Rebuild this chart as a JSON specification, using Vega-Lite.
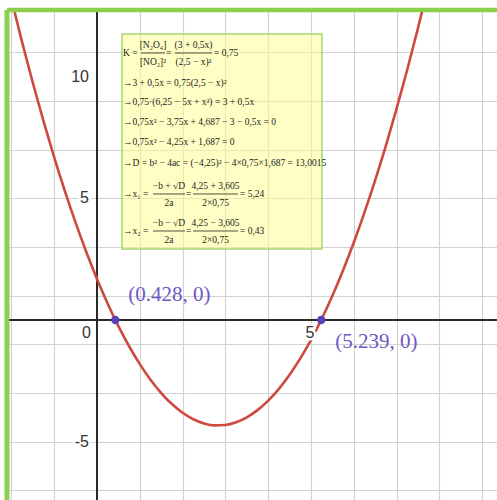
{
  "$schema": "https://vega.github.io/schema/vega-lite/v6.json",
  "width": 490,
  "height": 490,
  "autosize": {"type": "none"},
  "padding": {"left": 7, "top": 10, "right": 0, "bottom": 0},
  "background": "white",
  "config": {
    "view": {"stroke": null},
    "axis": {"grid": true, "labels": false, "ticks": false, "domain": false, "gridColor": "#d2d2d2", "gridWidth": 1.2}
  },
  "datasets": {
    "curve": [
      {"x": -2.25, "y": 15.046}, {"x": -2.0, "y": 13.187}, {"x": -1.75, "y": 11.421}, {"x": -1.5, "y": 9.75},
      {"x": -1.25, "y": 8.171}, {"x": -1.0, "y": 6.687}, {"x": -0.75, "y": 5.296}, {"x": -0.5, "y": 4.0},
      {"x": -0.25, "y": 2.796}, {"x": 0.0, "y": 1.687}, {"x": 0.25, "y": 0.671}, {"x": 0.5, "y": -0.251},
      {"x": 0.75, "y": -1.079}, {"x": 1.0, "y": -1.813}, {"x": 1.25, "y": -2.454}, {"x": 1.5, "y": -3.001},
      {"x": 1.75, "y": -3.454}, {"x": 2.0, "y": -3.813}, {"x": 2.25, "y": -4.079}, {"x": 2.5, "y": -4.251},
      {"x": 2.75, "y": -4.329}, {"x": 3.0, "y": -4.313}, {"x": 3.25, "y": -4.204}, {"x": 3.5, "y": -4.001},
      {"x": 3.75, "y": -3.704}, {"x": 4.0, "y": -3.313}, {"x": 4.25, "y": -2.829}, {"x": 4.5, "y": -2.251},
      {"x": 4.75, "y": -1.579}, {"x": 5.0, "y": -0.813}, {"x": 5.25, "y": 0.046}, {"x": 5.5, "y": 1.0},
      {"x": 5.75, "y": 2.046}, {"x": 6.0, "y": 3.187}, {"x": 6.25, "y": 4.421}, {"x": 6.5, "y": 5.75},
      {"x": 6.75, "y": 7.171}, {"x": 7.0, "y": 8.687}, {"x": 7.25, "y": 10.296}, {"x": 7.5, "y": 12.0},
      {"x": 7.75, "y": 13.796}, {"x": 8.0, "y": 15.687}
    ],
    "roots": [
      {"x": 0.428, "y": 0, "label": "(0.428, 0)", "side": "left"},
      {"x": 5.239, "y": 0, "label": "(5.239, 0)", "side": "right"}
    ],
    "box": [{"x": 0.584, "x2": 5.257, "y": 11.755, "y2": 2.918}],
    "eq": [
      {"x": 0.607, "y": 10.974, "t": "K ="},
      {"x": 1.612, "y": 10.974, "t": "="},
      {"x": 2.734, "y": 10.974, "t": "= 0,75"},
      {"x": 0.607, "y": 9.741, "t": "→3 + 0,5x = 0,75(2,5 − x)²"},
      {"x": 0.607, "y": 8.96, "t": "→0,75·(6,25 − 5x + x²) = 3 + 0,5x"},
      {"x": 0.607, "y": 8.138, "t": "→0,75x² − 3,75x + 4,687 − 3 − 0,5x = 0"},
      {"x": 0.607, "y": 7.296, "t": "→0,75x² − 4,25x + 1,687 = 0"},
      {"x": 0.607, "y": 6.453, "t": "→D = b² − 4ac = (−4,25)² − 4×0,75×1,687 = 13,0015"},
      {"x": 0.607, "y": 5.179, "t": "→x₁ ="},
      {"x": 2.079, "y": 5.179, "t": "="},
      {"x": 3.341, "y": 5.179, "t": "= 5,24"},
      {"x": 0.607, "y": 3.658, "t": "→x₂ ="},
      {"x": 2.079, "y": 3.658, "t": "="},
      {"x": 3.341, "y": 3.658, "t": "= 0,43"}
    ],
    "frac": [
      {"x": 1.308, "y": 11.303, "t": "[N₂O₄]"},
      {"x": 1.308, "y": 10.604, "t": "[NO₂]²"},
      {"x": 2.255, "y": 11.303, "t": "(3 + 0,5x)"},
      {"x": 2.255, "y": 10.604, "t": "(2,5 − x)²"},
      {"x": 1.682, "y": 5.508, "t": "−b + √D"},
      {"x": 1.682, "y": 4.809, "t": "2a"},
      {"x": 2.769, "y": 5.508, "t": "4,25 + 3,605"},
      {"x": 2.769, "y": 4.809, "t": "2×0,75"},
      {"x": 1.682, "y": 3.987, "t": "−b − √D"},
      {"x": 1.682, "y": 3.288, "t": "2a"},
      {"x": 2.769, "y": 3.987, "t": "4,25 − 3,605"},
      {"x": 2.769, "y": 3.288, "t": "2×0,75"}
    ],
    "bars": [
      {"x": 1.028, "x2": 1.589, "y": 10.974},
      {"x": 1.822, "x2": 2.687, "y": 10.974},
      {"x": 1.308, "x2": 2.056, "y": 5.179},
      {"x": 2.243, "x2": 3.294, "y": 5.179},
      {"x": 1.308, "x2": 2.056, "y": 3.658},
      {"x": 2.243, "x2": 3.294, "y": 3.658}
    ],
    "yticks": [
      {"x": 0, "y": 10, "t": "10"},
      {"x": 0, "y": 5, "t": "5"},
      {"x": 0, "y": -5, "t": "-5"}
    ],
    "origin": [{"x": 0, "y": 0, "t": "0"}],
    "xticks": [{"x": 5, "y": 0, "t": "5"}],
    "one": [{}]
  },
  "layer": [
    {
      "data": {"name": "box"},
      "mark": {"type": "rect", "fill": "#ffff8c", "fillOpacity": 0.5, "stroke": "#a6d873", "strokeWidth": 1.5},
      "encoding": {
        "x": {"field": "x", "type": "quantitative", "title": null, "scale": {"domain": [-2.103, 9.346], "nice": false, "zero": false}, "axis": {"values": [-2, -1, 0, 1, 2, 3, 4, 5, 6, 7, 8, 9]}},
        "x2": {"field": "x2"},
        "y": {"field": "y", "type": "quantitative", "title": null, "scale": {"domain": [-7.398, 12.741], "nice": false, "zero": false}, "axis": {"values": [-7, -6, -5, -4, -3, -2, -1, 0, 1, 2, 3, 4, 5, 6, 7, 8, 9, 10, 11, 12]}},
        "y2": {"field": "y2"}
      }
    },
    {
      "data": {"name": "one"},
      "mark": {"type": "rule", "color": "#2a2a2a", "strokeWidth": 2},
      "encoding": {"x": {"datum": 0, "type": "quantitative"}}
    },
    {
      "data": {"name": "one"},
      "mark": {"type": "rule", "color": "#2a2a2a", "strokeWidth": 2},
      "encoding": {"y": {"datum": 0, "type": "quantitative"}}
    },
    {
      "data": {"name": "curve"},
      "mark": {"type": "line", "color": "#cc4a3e", "strokeWidth": 2.6, "clip": true, "interpolate": "monotone"},
      "encoding": {
        "x": {"field": "x", "type": "quantitative", "title": null},
        "y": {"field": "y", "type": "quantitative", "title": null}
      }
    },
    {
      "data": {"name": "roots"},
      "mark": {"type": "circle", "color": "#5a41b5", "size": 70, "opacity": 1},
      "encoding": {
        "x": {"field": "x", "type": "quantitative", "title": null},
        "y": {"field": "y", "type": "quantitative", "title": null}
      }
    },
    {
      "data": {"name": "roots"},
      "transform": [{"filter": "datum.side == 'left'"}],
      "mark": {"type": "text", "align": "left", "baseline": "middle", "dx": 13, "dy": -25, "font": "Liberation Serif", "fontSize": 21, "color": "#6c57c4"},
      "encoding": {
        "x": {"field": "x", "type": "quantitative", "title": null},
        "y": {"field": "y", "type": "quantitative", "title": null},
        "text": {"field": "label"}
      }
    },
    {
      "data": {"name": "roots"},
      "transform": [{"filter": "datum.side == 'right'"}],
      "mark": {"type": "text", "align": "left", "baseline": "middle", "dx": 14, "dy": 22, "font": "Liberation Serif", "fontSize": 21, "color": "#6c57c4"},
      "encoding": {
        "x": {"field": "x", "type": "quantitative", "title": null},
        "y": {"field": "y", "type": "quantitative", "title": null},
        "text": {"field": "label"}
      }
    },
    {
      "data": {"name": "eq"},
      "mark": {"type": "text", "align": "left", "baseline": "middle", "font": "Liberation Serif", "fontSize": 9.5, "color": "#222222"},
      "encoding": {
        "x": {"field": "x", "type": "quantitative", "title": null},
        "y": {"field": "y", "type": "quantitative", "title": null},
        "text": {"field": "t"}
      }
    },
    {
      "data": {"name": "frac"},
      "mark": {"type": "text", "align": "center", "baseline": "middle", "font": "Liberation Serif", "fontSize": 9.5, "color": "#222222"},
      "encoding": {
        "x": {"field": "x", "type": "quantitative", "title": null},
        "y": {"field": "y", "type": "quantitative", "title": null},
        "text": {"field": "t"}
      }
    },
    {
      "data": {"name": "bars"},
      "mark": {"type": "rule", "color": "#222222", "strokeWidth": 0.8},
      "encoding": {
        "x": {"field": "x", "type": "quantitative", "title": null},
        "x2": {"field": "x2"},
        "y": {"field": "y", "type": "quantitative", "title": null}
      }
    },
    {
      "data": {"name": "yticks"},
      "mark": {"type": "text", "align": "right", "baseline": "middle", "dx": -8, "font": "Liberation Sans", "fontSize": 16, "stroke": "white", "strokeWidth": 5, "color": "white"},
      "encoding": {
        "x": {"field": "x", "type": "quantitative", "title": null},
        "y": {"field": "y", "type": "quantitative", "title": null},
        "text": {"field": "t"}
      }
    },
    {
      "data": {"name": "yticks"},
      "mark": {"type": "text", "align": "right", "baseline": "middle", "dx": -8, "font": "Liberation Sans", "fontSize": 16, "color": "#333333"},
      "encoding": {
        "x": {"field": "x", "type": "quantitative", "title": null},
        "y": {"field": "y", "type": "quantitative", "title": null},
        "text": {"field": "t"}
      }
    },
    {
      "data": {"name": "origin"},
      "mark": {"type": "text", "align": "right", "baseline": "middle", "dx": -6, "dy": 13, "font": "Liberation Sans", "fontSize": 16, "color": "#333333"},
      "encoding": {
        "x": {"field": "x", "type": "quantitative", "title": null},
        "y": {"field": "y", "type": "quantitative", "title": null},
        "text": {"field": "t"}
      }
    },
    {
      "data": {"name": "xticks"},
      "mark": {"type": "text", "align": "center", "baseline": "middle", "dx": -1, "dy": 13, "font": "Liberation Sans", "fontSize": 16, "stroke": "white", "strokeWidth": 5, "color": "white"},
      "encoding": {
        "x": {"field": "x", "type": "quantitative", "title": null},
        "y": {"field": "y", "type": "quantitative", "title": null},
        "text": {"field": "t"}
      }
    },
    {
      "data": {"name": "xticks"},
      "mark": {"type": "text", "align": "center", "baseline": "middle", "dx": -1, "dy": 13, "font": "Liberation Sans", "fontSize": 16, "color": "#333333"},
      "encoding": {
        "x": {"field": "x", "type": "quantitative", "title": null},
        "y": {"field": "y", "type": "quantitative", "title": null},
        "text": {"field": "t"}
      }
    },
    {
      "data": {"name": "one"},
      "mark": {"type": "rule", "color": "#8ccf4e", "strokeWidth": 5},
      "encoding": {"x": {"datum": -2.103, "type": "quantitative"}}
    },
    {
      "data": {"name": "one"},
      "mark": {"type": "rule", "color": "#8ccf4e", "strokeWidth": 4.5},
      "encoding": {"y": {"datum": 12.741, "type": "quantitative"}}
    }
  ]
}
